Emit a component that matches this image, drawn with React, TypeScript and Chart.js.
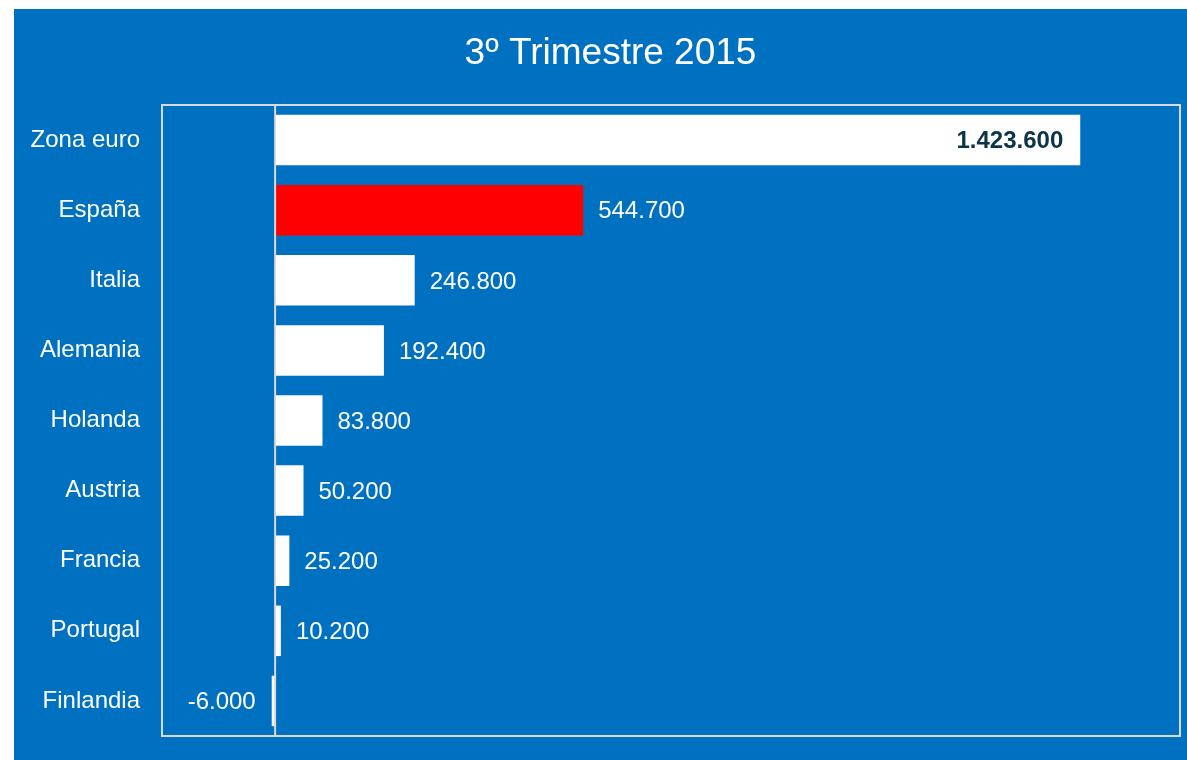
import React, { useEffect, useRef } from "react";
import { Chart, registerables } from "chart.js";

Chart.register(...registerables);

const title = "3º Trimestre 2015";
const categories = ["Zona euro", "España", "Italia", "Alemania", "Holanda", "Austria", "Francia", "Portugal", "Finlandia"];
const values = [1423600, 544700, 246800, 192400, 83800, 50200, 25200, 10200, -6000];
const barColors = ["#FFFFFF", "#FF0000", "#FFFFFF", "#FFFFFF", "#FFFFFF", "#FFFFFF", "#FFFFFF", "#FFFFFF", "#FFFFFF"];
const xMin = -200000;
const xMax = 1600000;

const BG = "#0070C0";
const FONT = "'Liberation Sans', Arial, sans-serif";

function fmt(v: number): string {
  const s = Math.abs(v).toString();
  const parts: string[] = [];
  for (let i = s.length; i > 0; i -= 3) parts.unshift(s.slice(Math.max(0, i - 3), i));
  return (v < 0 ? "-" : "") + parts.join(".");
}

const decorPlugin = {
  id: "decor",
  beforeDraw(chart: any) {
    const { ctx, width, height } = chart;
    ctx.save();
    ctx.fillStyle = BG;
    ctx.fillRect(0, 0, width, height);
    ctx.fillStyle = "#FFFFFF";
    ctx.font = `37px ${FONT}`;
    ctx.textAlign = "center";
    ctx.textBaseline = "alphabetic";
    ctx.fillText(title, width / 2, 54.5);
    ctx.restore();
  },
  afterDatasetsDraw(chart: any) {
    const { ctx, chartArea } = chart;
    const xs = chart.scales.x;
    ctx.save();
    const x0 = xs.getPixelForValue(0);
    ctx.strokeStyle = "#D9D9D9";
    ctx.lineWidth = 2;
    ctx.beginPath();
    ctx.moveTo(x0, chartArea.top);
    ctx.lineTo(x0, chartArea.bottom);
    ctx.stroke();
    ctx.strokeRect(chartArea.left, chartArea.top, chartArea.right - chartArea.left, chartArea.bottom - chartArea.top);
    const meta = chart.getDatasetMeta(0);
    meta.data.forEach((bar: any, i: number) => {
      const v = values[i];
      const y = bar.y + 8.3;
      ctx.textBaseline = "alphabetic";
      if (i === 0) {
        ctx.font = `bold 24px ${FONT}`;
        ctx.fillStyle = "#0D3447";
        ctx.textAlign = "right";
        ctx.fillText(fmt(v), bar.x - 17, y);
      } else if (v < 0) {
        ctx.font = `24px ${FONT}`;
        ctx.fillStyle = "#FFFFFF";
        ctx.textAlign = "right";
        ctx.fillText(fmt(v), bar.x - 16, y);
      } else {
        ctx.font = `24px ${FONT}`;
        ctx.fillStyle = "#FFFFFF";
        ctx.textAlign = "left";
        ctx.fillText(fmt(v), bar.x + 15, y);
      }
    });
    ctx.restore();
  },
};

export default function App() {
  const ref = useRef<HTMLCanvasElement | null>(null);
  useEffect(() => {
    if (!ref.current) return;
    const chart = new Chart(ref.current, {
      type: "bar",
      data: {
        labels: categories,
        datasets: [
          {
            data: values,
            backgroundColor: barColors,
            borderWidth: 0,
            barPercentage: 0.72,
            categoryPercentage: 1,
          },
        ],
      },
      options: {
        indexAxis: "y",
        animation: false,
        responsive: false,
        devicePixelRatio: 1,
        layout: { padding: { left: 0, top: 96, right: 27, bottom: 24 } },
        plugins: { legend: { display: false }, tooltip: { enabled: false }, title: { display: false } },
        scales: {
          x: { display: false, min: xMin, max: xMax },
          y: {
            grid: { display: false, drawTicks: false },
            border: { display: false },
            ticks: { color: "#FFFFFF", font: { family: FONT, size: 24 }, padding: 22 },
            afterFit(scale: any) {
              scale.width = 148;
              scale.paddingTop = 0;
              scale.paddingBottom = 0;
            },
          },
        },
      },
      plugins: [decorPlugin],
    });
    return () => chart.destroy();
  }, []);
  return (
    <div style={{ position: "fixed", left: 14, top: 9, width: 1173, height: 751, overflow: "hidden" }}>
      <canvas ref={ref} width={1193} height={751} style={{ display: "block", width: 1193, height: 751 }} />
    </div>
  );
}
